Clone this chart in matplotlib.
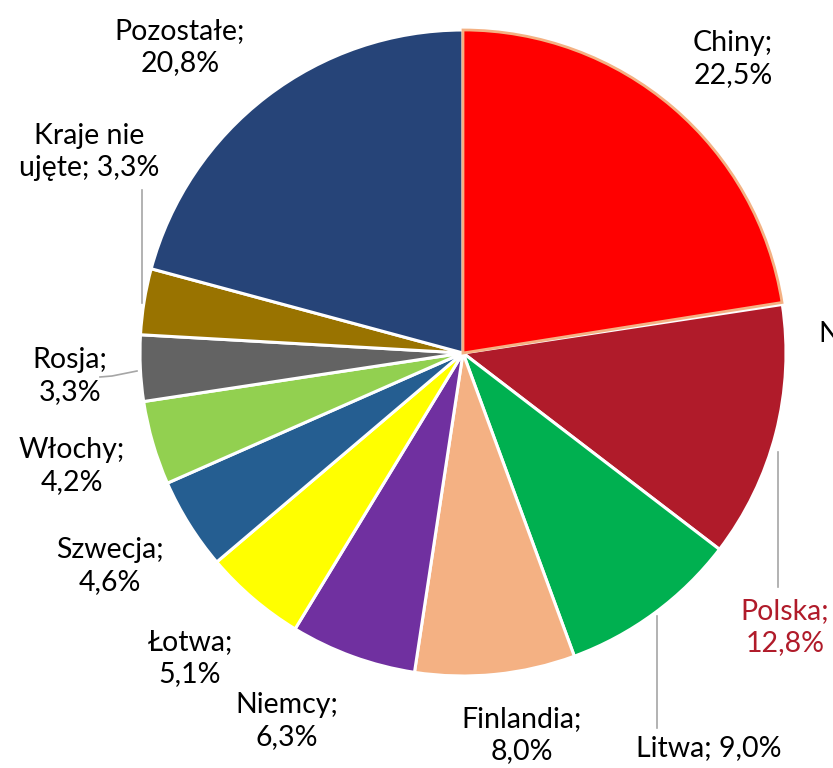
import matplotlib.pyplot as plt
import matplotlib.transforms as mtransforms

# shares, clockwise from 12 o'clock
names = ["Chiny", "Norwegia", "Polska", "Litwa", "Finlandia", "Niemcy", "Łotwa",
         "Szwecja", "Włochy", "Rosja", "Kraje nie\nujęte", "Pozostałe"]
shares = [22.5, 0.1, 12.8, 9.0, 8.0, 6.3, 5.1, 4.6, 4.2, 3.3, 3.3, 20.8]
share_txt = ["22,5%", "0,1%", "12,8%", "9,0%", "8,0%", "6,3%", "5,1%",
             "4,6%", "4,2%", "3,3%", "3,3%", "20,8%"]
colors = ["#FF0000", "#F4B183", "#B01B2A", "#00B050", "#F4B183", "#7030A0", "#FFFF00",
          "#255E91", "#92D050", "#636363", "#997300", "#264478"]

# label layout (pixels from top-left): x, y, separator between name and value
label_pos = [(733, 59, "\n"), (818, 350, "\n"), (785, 627, "\n"), (709, 748, " "),
             (522, 735, "\n"), (287, 721, "\n"), (190, 658, "\n"), (110, 566, "\n"),
             (72, 466, "\n"), (70, 376, "\n"), (89, 152, " "), (180, 47, "\n")]

W, H = 833, 768
fig = plt.figure(figsize=(W / 100, H / 100), dpi=100)
ax = fig.add_axes([0, 0, 1, 1])

cx, cy, r = 463, 353, 323
wedges, _ = ax.pie(shares, colors=colors, startangle=90, counterclock=False,
                   center=(cx, H - cy), radius=r, frame=True,
                   wedgeprops=dict(edgecolor="white", linewidth=2.2))
# pie drawn in y-up coords: flip each wedge into the y-down axes
flip = mtransforms.Affine2D().scale(1, -1).translate(0, H)
for w in wedges:
    w.set_transform(flip + ax.transData)
wedges[0].set_edgecolor("#F4B183")
wedges[0].set_linewidth(2.0)
wedges[0].set_zorder(3)
ax.set_xlim(0, W)
ax.set_ylim(H, 0)
ax.set_aspect("equal")
ax.axis("off")

font = dict(family=["Lato", "DejaVu Sans"], fontsize=20.5)
for i, (x, y, sep) in enumerate(label_pos):
    txt = names[i] + ";" + sep + share_txt[i]
    col = "#B01B2A" if names[i] == "Polska" else "black"
    ha = "left" if names[i] == "Norwegia" else "center"
    ax.text(x, y, txt, ha=ha, va="center", multialignment="center",
            color=col, linespacing=1.32, **font)

# leader lines
lc = "#A6A6A6"
ax.plot([778, 778], [452, 587], color=lc, lw=1.2)
ax.plot([657, 657], [616, 728], color=lc, lw=1.2)
ax.plot([142, 142], [190, 303], color=lc, lw=1.2)
ax.plot([100, 112, 137], [377, 376, 371], color=lc, lw=1.2)

fig.savefig("out.png", dpi=100)
